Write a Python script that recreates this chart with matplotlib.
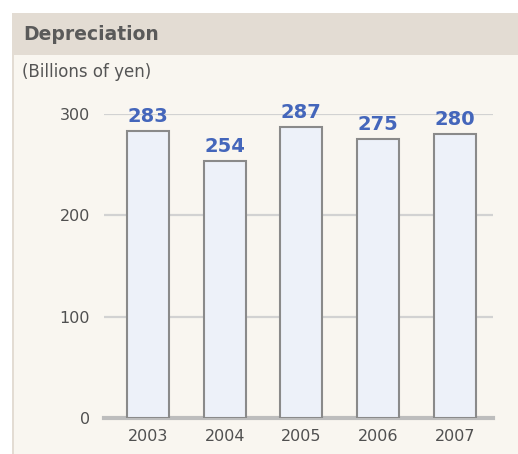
import matplotlib
matplotlib.use("Agg")
import matplotlib.pyplot as plt
from matplotlib.patches import Rectangle

years = ["2003", "2004", "2005", "2006", "2007"]
depreciation = [283, 254, 287, 275, 280]
y_ticks = [0, 100, 200, 300]

W, H = 518, 454
fig = plt.figure(figsize=(W / 100, H / 100), dpi=100)
fig.patch.set_facecolor("white")

# panel background, header band and thin left border
fig.add_artist(Rectangle((12 / W, 0), 1, (H - 55) / H, transform=fig.transFigure,
                         facecolor="#f9f6f0", edgecolor="none", zorder=0))
fig.add_artist(Rectangle((12 / W, (H - 55) / H), 1, 42 / H, transform=fig.transFigure,
                         facecolor="#e3dcd3", edgecolor="none", zorder=0))
fig.add_artist(Rectangle((12 / W, 0), 1.5 / W, (H - 13) / H, transform=fig.transFigure,
                         facecolor="#e3dcd3", edgecolor="none", zorder=1))

fig.text(23 / W, 1 - 35 / H, "Depreciation", fontsize=13.5, fontweight="bold",
         color="#5a5a5a", va="center", ha="left")
fig.text(22 / W, 1 - 72 / H, "(Billions of yen)", fontsize=12,
         color="#555555", va="center", ha="left")

# axes: y=0 at 418px, y=300 at 114px; x from 104 to 493px
ax = fig.add_axes([104 / W, (H - 418) / H, (493 - 104) / W, 304 / H])
ax.set_facecolor("none")
x = range(len(years))
ax.set_xlim(-0.575, 4.5)
ax.set_ylim(0, 300)

for t in y_ticks[1:]:
    ax.axhline(t, color="#d2d2d2", linewidth=1.6, zorder=1)
ax.axhline(0, color="#bdbdbd", linewidth=3, zorder=1, clip_on=False)

bars = ax.bar(x, depreciation, width=0.55, color="#edf1f9", edgecolor="#8a8a8a",
              linewidth=1.5, zorder=2)
for xi, v in zip(x, depreciation):
    ax.annotate(str(v), (xi, v), xytext=(0, 3.5), textcoords="offset points",
                ha="center", va="bottom", fontsize=14, fontweight="bold",
                color="#4466bb", zorder=3, annotation_clip=False)

ax.set_xticks(list(x))
ax.set_xticklabels(years)
ax.set_yticks(y_ticks)
ax.tick_params(axis="both", length=0, labelsize=11.5, labelcolor="#505050")
ax.tick_params(axis="y", pad=10)
ax.tick_params(axis="x", pad=8)
for s in ax.spines.values():
    s.set_visible(False)

fig.savefig("out.png", dpi=100)
